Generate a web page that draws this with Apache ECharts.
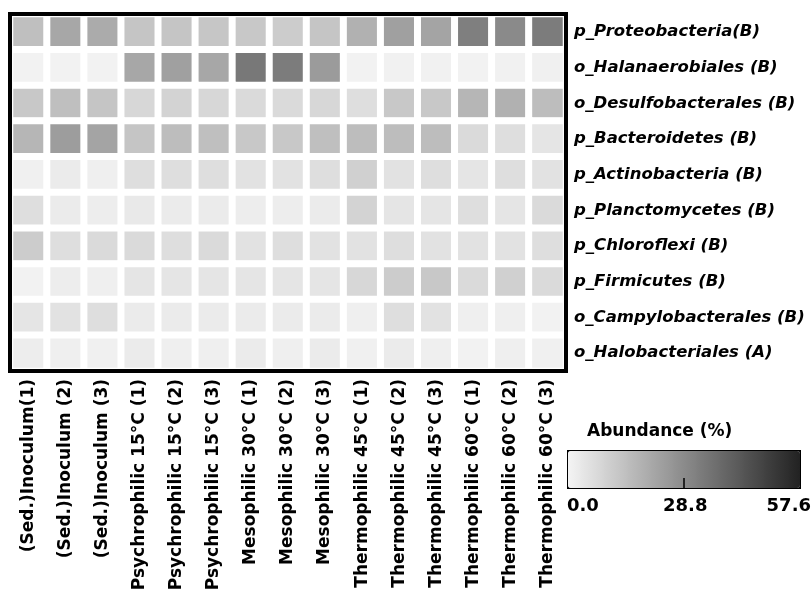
<!DOCTYPE html>
<html>
<head>
<meta charset="utf-8">
<script src="https://cdn.jsdelivr.net/npm/echarts@6/dist/echarts.min.js"></script>
<style>
  html, body { margin: 0; padding: 0; background: #fff; }
  #chart { width: 812px; height: 595px; }
</style>
</head>
<body>
<div id="chart"></div>
<script>
// Samples (columns)
const samples = [
  '(Sed.)Inoculum(1)', '(Sed.)Inoculum (2)', '(Sed.)Inoculum (3)',
  'Psychrophilic 15°C (1)', 'Psychrophilic 15°C (2)', 'Psychrophilic 15°C (3)',
  'Mesophilic 30°C (1)', 'Mesophilic 30°C (2)', 'Mesophilic 30°C (3)',
  'Thermophilic 45°C (1)', 'Thermophilic 45°C (2)', 'Thermophilic 45°C (3)',
  'Thermophilic 60°C (1)', 'Thermophilic 60°C (2)', 'Thermophilic 60°C (3)'
];

// Taxa (rows, top to bottom)
const taxa = [
  'p_Proteobacteria(B)', 'o_Halanaerobiales (B)', 'o_Desulfobacterales (B)',
  'p_Bacteroidetes (B)', 'p_Actinobacteria (B)', 'p_Planctomycetes (B)',
  'p_Chloroflexi (B)', 'p_Firmicutes (B)', 'o_Campylobacterales (B)',
  'o_Halobacteriales (A)'
];

// Relative abundance (%) per taxon, one value per sample
const proteobacteria    = [14.5, 21, 20, 13, 13, 12.5, 12, 11, 13, 18.5, 23, 22, 32, 29, 33];
const halanaerobiales   = [0.5, 0.5, 0.5, 21, 23, 21, 34, 33, 24.5, 0.5, 0.8, 0.8, 0.6, 0.8, 1];
const desulfobacterales = [12, 14.5, 13, 8, 9, 8, 7, 7, 8, 6, 12, 12, 17, 18.5, 15];
const bacteroidetes     = [17, 24, 22, 13, 15, 14.5, 12, 12, 14.5, 15, 15, 15, 7, 6, 4];
const actinobacteria    = [1, 2.5, 1.5, 6, 6, 6, 5, 5, 6, 10, 5, 6, 4, 6, 5];
const planctomycetes    = [6, 2.5, 2, 3, 2.5, 2.5, 2, 2, 2.5, 9, 4, 4, 6, 4, 7];
const chloroflexi       = [11, 6, 7, 7, 6, 7, 5, 6, 5, 5, 6, 5, 5, 5, 6];
const firmicutes        = [0.5, 2, 1.5, 4, 4, 4, 4, 4, 4, 8, 11, 12, 7, 10, 7];
const campylobacterales = [4, 5, 6, 2.5, 2.5, 2.5, 2.5, 2.5, 2.5, 1.5, 6, 5, 1.5, 1.5, 0.5];
const halobacteriales   = [2, 1.5, 1, 2.5, 1.5, 1.5, 2.5, 1.5, 2.5, 1, 2.5, 1.5, 0.5, 1.5, 1];

const rows = [
  proteobacteria, halanaerobiales, desulfobacterales, bacteroidetes,
  actinobacteria, planctomycetes, chloroflexi, firmicutes,
  campylobacterales, halobacteriales
];

// Colour scale range and its tick labels
const scaleMin = 0;
const scaleMax = 57.6;
const scaleTicks = ['0.0', '28.8', '57.6'];

const cells = [];
rows.forEach((vals, r) => {
  vals.forEach((v, c) => cells.push([c, r, v]));
});

const font = 'DejaVu Sans';
const legendFont = 'bold 18px "DejaVu Sans"';
const chart = echarts.init(document.getElementById('chart'), null, { renderer: 'canvas' });

chart.setOption({
  animation: false,
  backgroundColor: '#fff',
  grid: {
    show: true,
    z: 10,
    left: 10, right: 246, top: 14, bottom: 224,
    containLabel: false,
    outerBoundsMode: 'none',
    borderColor: '#000', borderWidth: 4,
    backgroundColor: 'transparent'
  },
  xAxis: {
    type: 'category',
    data: samples,
    axisLine: { show: false },
    axisTick: { show: false },
    splitLine: { show: false },
    axisLabel: {
      interval: 0, rotate: 90, margin: 8,
      color: '#000', fontFamily: font, fontWeight: 'bold', fontSize: 17
    }
  },
  yAxis: {
    type: 'category',
    data: taxa,
    inverse: true,
    position: 'right',
    axisLine: { show: false },
    axisTick: { show: false },
    splitLine: { show: false },
    axisLabel: {
      margin: 8, color: '#000', fontFamily: font,
      fontWeight: 'bold', fontStyle: 'italic', fontSize: 16.5
    }
  },
  visualMap: {
    type: 'continuous',
    min: scaleMin, max: scaleMax,
    orient: 'horizontal',
    left: 567, top: 450,
    itemWidth: 37, itemHeight: 232,
    calculable: false,
    hoverLink: false,
    padding: 0,
    borderColor: '#000', borderWidth: 2,
    inRange: { color: ['#f4f4f4', '#222222'] },
    textStyle: { color: 'transparent' }
  },
  graphic: [
    { type: 'text', left: 587, top: 423,
      style: { text: 'Abundance (%)', font: 'bold 17px "DejaVu Sans"', fill: '#000' } },
    { type: 'text', left: 567, top: 497,
      style: { text: scaleTicks[0], font: legendFont, fill: '#000' } },
    { type: 'text', left: 663, top: 497,
      style: { text: scaleTicks[1], font: legendFont, fill: '#000' } },
    { type: 'text', right: 1, top: 497,
      style: { text: scaleTicks[2], font: legendFont, fill: '#000' } },
    { type: 'line', z: 100,
      shape: { x1: 684, y1: 478, x2: 684, y2: 488 },
      style: { stroke: '#000', lineWidth: 1.5 } }
  ],
  series: [{
    type: 'heatmap',
    data: cells,
    itemStyle: { borderColor: '#fff', borderWidth: 7 },
    emphasis: { disabled: true }
  }]
});
</script>
</body>
</html>
